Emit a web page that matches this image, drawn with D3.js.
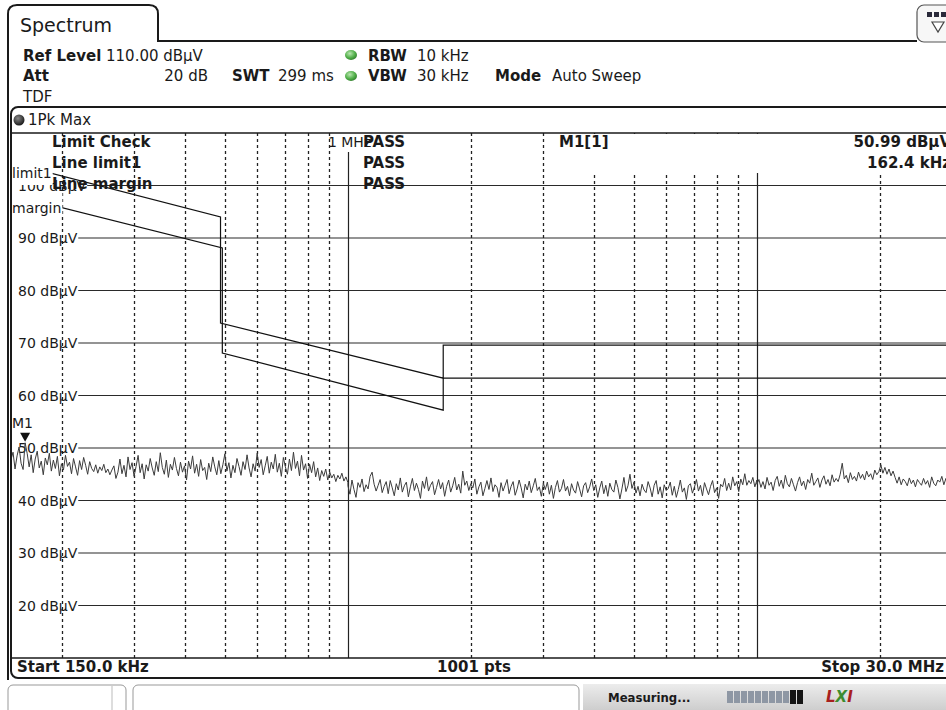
<!DOCTYPE html>
<html><head><meta charset="utf-8">
<script src="https://cdn.jsdelivr.net/npm/d3@7/dist/d3.min.js"></script>
<style>
body{margin:0;background:#fff;}
svg{display:block;font-family:"DejaVu Sans",Verdana,sans-serif;}
</style></head><body>
<svg id="c" width="946" height="710"></svg>
<script>
// ---------------- data ----------------
const startFreq = 150e3, stopFreq = 30e6;
const refLevel = 110, bottomLevel = 10;
const levelTicks = [100, 90, 80, 70, 60, 50, 40, 30, 20];
const dashedFreqs = [200e3, 300e3, 400e3, 500e3, 600e3, 700e3, 800e3, 900e3,
                     2e6, 3e6, 4e6, 5e6, 6e6, 7e6, 8e6, 9e6, 20e6];
const solidFreqs = [1e6, 10e6];
const solidLabels = ["1 MHz", ""];

const limit1Freq  = [150e3, 488e3, 488e3, 1.71e6, 1.71e6, 30e6];
const limit1Level = [104.3, 94.0, 73.8, 63.3, 69.6, 69.6];
const marginFreq  = [150e3, 493e3, 493e3, 1.71e6, 1.71e6, 30e6];
const marginLevel = [98.2, 88.1, 68.1, 57.2, 63.3, 63.3];

// trace 1 (1Pk Max): 150 kHz-1 MHz, 1-10 MHz, 10-30 MHz
const traceLow = [
  47.8,49.2,46.0,48.5,50.2,47.1,45.9,50.99,49.0,46.4,
  48.7,45.3,47.9,49.4,46.2,47.5,44.9,48.1,46.8,49.0,
  45.6,47.7,46.1,48.4,44.7,47.0,45.8,48.6,46.5,47.3,
  45.1,48.0,46.4,44.8,47.6,45.9,48.2,46.7,45.0,47.4,
  46.1,45.5,46.8,45.2,46.4,45.7,46.9,45.3,46.0,44.9,
  45.8,46.6,44.2,45.4,47.9,45.1,46.7,44.5,48.3,45.9,
  47.2,44.6,46.5,48.6,45.3,47.0,44.1,46.8,45.6,48.0,
  46.2,44.8,47.4,45.5,49.1,46.3,45.0,47.7,44.4,46.9,
  45.8,48.2,46.1,44.7,47.3,45.4,46.6,43.9,47.5,46.0,
  48.5,45.2,46.9,44.6,47.8,45.7,46.3,44.0,47.1,45.5,
  48.3,46.4,44.9,47.6,45.1,46.8,48.9,45.6,47.2,44.3,
  46.7,45.3,48.0,46.5,44.8,47.4,45.9,48.7,46.2,44.5,
  47.0,45.6,49.0,46.3,47.8,44.9,46.6,48.4,45.2,47.3,
  46.0,48.8,45.4,47.1,44.6,48.2,46.4,45.0,47.9,45.7,
  49.2,46.1,47.5,44.7,48.6,45.8,47.0,44.2,46.9,45.3,
  47.4,44.5,46.2,43.8,45.7,44.6,46.0,43.9,45.4,44.3,
  45.0,43.6,44.8,44.1,45.2,43.7,44.5,43.4];
const traceMid = [
  42.8,41.2,43.9,42.1,40.6,43.4,42.5,44.1,41.7,43.0,
  42.2,44.6,45.4,43.1,41.8,42.9,44.0,41.5,42.7,43.6,
  41.3,43.8,42.4,40.9,43.2,42.0,44.3,41.6,42.8,43.5,
  40.7,42.6,44.2,41.9,43.3,42.1,40.4,43.7,42.3,44.5,
  41.8,42.9,43.6,41.1,42.5,44.0,42.2,43.4,40.8,42.7,
  43.9,41.6,42.8,44.4,42.0,43.1,41.4,45.6,42.9,43.7,
  41.9,43.2,42.4,44.1,41.2,42.6,43.5,40.9,42.3,43.8,
  42.1,44.3,41.7,43.0,42.5,40.6,43.4,41.8,42.9,44.0,
  41.3,42.7,43.6,41.0,42.2,43.9,42.4,40.5,43.1,42.0,
  43.7,41.5,42.8,44.2,41.9,42.6,40.8,43.3,42.1,43.5,
  41.2,42.9,40.4,42.5,43.8,41.6,42.3,44.0,41.8,42.7,
  40.9,43.2,42.0,41.4,43.6,42.2,40.7,42.8,43.4,41.5,
  42.6,44.1,41.9,43.0,40.6,42.4,43.7,41.3,42.9,40.8,
  43.3,42.1,41.6,43.9,42.5,40.3,42.2,44.4,41.7,42.8,
  45.0,42.3,43.5,41.4,42.7,40.9,43.1,42.0,41.5,43.6,
  42.4,40.7,42.9,43.8,41.2,42.6,40.5,43.0,41.9,42.3,
  43.5,41.0,42.7,40.6,42.1,43.9,41.6,42.4,40.2,42.8,
  43.2,41.4,42.5,44.0,41.8,42.9,40.9,43.4,42.2,41.1,
  42.7,43.8,41.5,42.4,40.4,43.1,42.6,44.2,41.9,43.3,
  42.0,44.5,42.8,43.6,41.7,44.1,43.0,45.1,42.9,43.8,
  43.2,44.4,42.6,43.9];
const traceHigh = [
  43.1,44.0,42.5,43.6,42.2,44.4,42.9,43.5,41.9,43.8,
  44.6,42.7,43.9,42.3,44.8,43.2,42.6,44.2,43.0,41.8,
  43.4,44.5,42.8,43.7,42.1,44.0,43.3,45.2,42.9,43.6,
  44.3,42.5,43.9,44.7,43.1,44.0,42.8,44.9,43.5,44.2,
  43.6,45.0,47.1,44.1,44.8,43.4,45.3,44.0,44.6,43.7,
  45.4,44.2,45.0,43.9,45.6,44.5,45.1,44.0,45.8,44.9,
  45.5,46.8,45.2,46.3,45.0,46.0,44.7,45.6,44.4,43.3,
  44.5,43.0,44.1,43.6,42.8,44.3,43.2,43.9,42.6,44.0,
  43.4,42.9,44.2,43.1,43.8,42.5,44.5,43.3,42.8,43.9,
  43.5,44.6,43.0,44.2,42.7,43.8,44.1];
const traceBands = [[150e3, 1e6], [1e6, 10e6], [10e6, 30e6]];

const markerFreq = [162.4e3];
const markerLevel = [50.99];
const markerNames = ["M1"];

// ---------------- scales ----------------
const svg = d3.select("#c");
const L = 11, R = 952, T = 133, B = 658;
const x = d3.scaleLog().domain([startFreq, stopFreq]).range([L, R]);
const y = d3.scaleLinear().domain([bottomLevel, refLevel]).range([B, T]);
const INK = "#1a1a1a";

svg.append("rect").attr("width", 946).attr("height", 710).attr("fill", "#fff");

// ---------------- grid ----------------
const grid = svg.append("g");
const ylab = svg.append("g").attr("font-size", 14).attr("fill", INK);
levelTicks.forEach(t => {
  const tx = ylab.append("text").attr("x", 18).attr("y", y(t)).attr("dy", "0.36em")
    .text(t + " dBµV");
  const w = tx.node().getComputedTextLength();
  grid.append("line").attr("x1", 18 + w + 1).attr("x2", R)
    .attr("y1", y(t)).attr("y2", y(t))
    .attr("stroke", "#2a2a2a").attr("stroke-width", 1.2);
});
grid.selectAll("line.vd").data(dashedFreqs).enter().append("line")
  .attr("x1", d => Math.round(x(d)) + 0.5).attr("x2", d => Math.round(x(d)) + 0.5)
  .attr("y1", T).attr("y2", B)
  .attr("stroke", "#222").attr("stroke-width", 1.3).attr("stroke-dasharray", "3,3");
grid.selectAll("line.vs").data(solidFreqs).enter().append("line")
  .attr("x1", d => Math.round(x(d)) + 0.5).attr("x2", d => Math.round(x(d)) + 0.5)
  .attr("y1", (d, i) => solidLabels[i] ? T + 19 : T).attr("y2", B)
  .attr("stroke", "#222").attr("stroke-width", 1.2);
grid.selectAll("text.vs").data(solidFreqs).enter().append("text")
  .attr("x", d => x(d) - 20).attr("y", T + 9).attr("dy", "0.36em")
  .attr("font-size", 14).attr("fill", INK).text((d, i) => solidLabels[i]);

// ---------------- limit lines ----------------
svg.append("clipPath").attr("id", "pc").append("rect")
  .attr("x", L).attr("y", T).attr("width", R - L).attr("height", B - T);
const line = d3.line().x(d => x(d[0])).y(d => y(d[1]));
const lim = svg.append("g").attr("clip-path", "url(#pc)");
lim.append("path").attr("d", line(d3.zip(limit1Freq, limit1Level)))
  .attr("fill", "none").attr("stroke", "#111").attr("stroke-width", 1.2);
lim.append("path").attr("d", line(d3.zip(marginFreq, marginLevel)))
  .attr("fill", "none").attr("stroke", "#111").attr("stroke-width", 1.2);

// ---------------- trace ----------------
const tracePts = [];
[traceLow, traceMid, traceHigh].forEach((vals, k) => {
  const [f0, f1] = traceBands[k];
  const n = vals.length;
  vals.forEach((v, i) => tracePts.push([f0 * Math.pow(f1 / f0, i / (n - 1)), v]));
});
lim.append("path").attr("d", line(tracePts))
  .attr("fill", "none").attr("stroke", "#3c3c3c").attr("stroke-width", 1);

// ---------------- limit line labels ----------------
const labs = svg.append("g").attr("font-size", 14).attr("fill", INK);
[["limit1", limit1Level[0], 10, 160, 25], ["margin", marginLevel[0], 13, 193, 24]].forEach(([name, lv, off, by, bh]) => {
  const t = labs.append("text").attr("x", 12).attr("y", y(lv) + off).attr("dy", "0.36em").text(name);
  const w = t.node().getComputedTextLength();
  labs.insert("rect", "text").attr("x", L + 1).attr("y", by).attr("width", w + 1).attr("height", bh).attr("fill", "#fff");
});

// ---------------- limit check table ----------------
const lc = svg.append("g").attr("font-size", 15).attr("font-weight", "bold").attr("fill", INK);
["Limit Check", "Line limit1", "Line margin"].forEach((s, i) => {
  lc.append("text").attr("x", 52).attr("y", 142 + i * 21).attr("dy", "0.36em").text(s);
  lc.append("text").attr("x", 363).attr("y", 142 + i * 21).attr("dy", "0.36em").text("PASS");
});

// ---------------- marker info ----------------
svg.append("rect").attr("x", 550).attr("y", T + 1).attr("width", 420).attr("height", 39).attr("fill", "#fff");
const mi = svg.append("g").attr("font-size", 15).attr("font-weight", "bold").attr("fill", INK);
mi.append("text").attr("x", 559).attr("y", 142).attr("dy", "0.36em").text(markerNames[0] + "[1]");
mi.append("text").attr("x", 951).attr("y", 142).attr("dy", "0.36em").attr("text-anchor", "end")
  .text(markerLevel[0].toFixed(2) + " dBµV");
mi.append("text").attr("x", 951).attr("y", 163).attr("dy", "0.36em").attr("text-anchor", "end")
  .text((markerFreq[0] / 1e3).toFixed(1) + " kHz");

markerFreq.forEach((f, i) => {
  const mx = x(f), my = y(markerLevel[i]);
  svg.append("path").attr("d", `M${mx - 5},${my - 10}L${mx + 5},${my - 10}L${mx},${my - 1}Z`).attr("fill", "#111");
  svg.append("text").attr("x", 12).attr("y", my - 20).attr("dy", "0.36em")
    .attr("font-size", 14).attr("fill", INK).text(markerNames[i]);
});

// ---------------- frame ----------------
const fr = svg.append("g").attr("fill", "none").attr("stroke", "#1a1a1a");
fr.append("path").attr("d", "M8,680 V14 Q8,5 17,5 H149 Q158,5 158,14 V41 H917").attr("stroke-width", 2);
fr.append("rect").attr("x", 11).attr("y", 107).attr("width", 960).attr("height", 571).attr("rx", 7).attr("stroke-width", 2);
fr.append("line").attr("x1", L).attr("x2", R).attr("y1", T).attr("y2", T).attr("stroke-width", 1.5);
fr.append("line").attr("x1", L).attr("x2", R).attr("y1", B).attr("y2", B).attr("stroke-width", 1.5);

const ic = svg.append("g");
ic.append("rect").attr("x", 917).attr("y", 5).attr("width", 40).attr("height", 37).attr("rx", 7)
  .attr("fill", "#f7f7f7").attr("stroke", "#555").attr("stroke-width", 1.2);
[927, 934, 941].forEach(sx => ic.append("rect").attr("x", sx).attr("y", 12).attr("width", 5).attr("height", 5).attr("fill", "#2a2a3a"));
ic.append("path").attr("d", "M932,22 L944,22 L938,32 Z").attr("fill", "#fff").attr("stroke", "#444").attr("stroke-width", 1.2);

svg.append("text").attr("x", 20).attr("y", 25).attr("dy", "0.36em").attr("font-size", 19).attr("fill", INK).text("Spectrum");

const hd = svg.append("g").attr("font-size", 15).attr("fill", INK);
function ht(xp, yp, s, bold, anchor) {
  hd.append("text").attr("x", xp).attr("y", yp).attr("dy", "0.36em")
    .attr("font-weight", bold ? "bold" : "normal").attr("text-anchor", anchor || "start").text(s);
}
ht(23, 56, "Ref Level", true); ht(106, 56, "110.00 dBµV");
ht(368, 56, "RBW", true); ht(417, 56, "10 kHz");
ht(23, 76, "Att", true); ht(208, 76, "20 dB", false, "end");
ht(232, 76, "SWT", true); ht(278, 76, "299 ms");
ht(368, 76, "VBW", true); ht(417, 76, "30 kHz");
ht(495, 76, "Mode", true); ht(552, 76, "Auto Sweep");
ht(23, 97, "TDF");
const defs = svg.append("defs");
const gg = defs.append("radialGradient").attr("id", "gdot").attr("cx", "40%").attr("cy", "35%").attr("r", "70%");
gg.append("stop").attr("offset", "0%").attr("stop-color", "#b9e6b0");
gg.append("stop").attr("offset", "60%").attr("stop-color", "#52b04a");
gg.append("stop").attr("offset", "100%").attr("stop-color", "#2f7a2a");
[55, 76].forEach(cy => svg.append("ellipse").attr("cx", 351).attr("cy", cy).attr("rx", 6).attr("ry", 5).attr("fill", "url(#gdot)"));

const kg = defs.append("radialGradient").attr("id", "kdot").attr("cx", "40%").attr("cy", "35%").attr("r", "70%");
kg.append("stop").attr("offset", "0%").attr("stop-color", "#888");
kg.append("stop").attr("offset", "100%").attr("stop-color", "#111");
svg.append("circle").attr("cx", 19).attr("cy", 120).attr("r", 5.5).attr("fill", "url(#kdot)");
svg.append("text").attr("x", 28).attr("y", 120).attr("dy", "0.36em").attr("font-size", 15).attr("fill", INK).text("1Pk Max");

const br = svg.append("g").attr("font-size", 15).attr("font-weight", "bold").attr("fill", INK);
br.append("text").attr("x", 17).attr("y", 667).attr("dy", "0.36em").text("Start " + (startFreq / 1e3).toFixed(1) + " kHz");
br.append("text").attr("x", 474).attr("y", 667).attr("dy", "0.36em").attr("text-anchor", "middle").text("1001 pts");
br.append("text").attr("x", 944).attr("y", 667).attr("dy", "0.36em").attr("text-anchor", "end").text("Stop " + (stopFreq / 1e6).toFixed(1) + " MHz");

const sb = svg.append("g");
const sg = defs.append("linearGradient").attr("id", "sgr").attr("x1", 0).attr("y1", 0).attr("x2", 0).attr("y2", 1);
sg.append("stop").attr("offset", "0%").attr("stop-color", "#ececec");
sg.append("stop").attr("offset", "100%").attr("stop-color", "#c9c9c9");
sb.append("rect").attr("x", 583).attr("y", 684).attr("width", 380).attr("height", 30).attr("fill", "url(#sgr)");
sb.append("rect").attr("x", 8).attr("y", 685).attr("width", 118).attr("height", 30).attr("rx", 5)
  .attr("fill", "#fff").attr("stroke", "#999");
sb.append("line").attr("x1", 112).attr("x2", 112).attr("y1", 686).attr("y2", 710).attr("stroke", "#bbb");
sb.append("rect").attr("x", 133).attr("y", 685).attr("width", 446).attr("height", 30).attr("rx", 5)
  .attr("fill", "#fff").attr("stroke", "#999");
sb.append("text").attr("x", 608).attr("y", 697).attr("dy", "0.36em").attr("font-size", 13)
  .attr("font-weight", "bold").attr("font-family", "'DejaVu Sans Condensed','DejaVu Sans',sans-serif")
  .attr("font-stretch", "condensed").attr("fill", INK).text("Measuring...");
d3.range(9).forEach(i => sb.append("rect").attr("x", 727 + i * 7).attr("y", 691).attr("width", 6).attr("height", 12).attr("fill", "#8e97a4"));
[790, 797].forEach(bx => sb.append("rect").attr("x", bx).attr("y", 690).attr("width", 6).attr("height", 14).attr("fill", "#151515"));
const lxi = sb.append("text").attr("x", 826).attr("y", 697).attr("dy", "0.36em").attr("font-size", 15)
  .attr("font-weight", "bold").attr("font-style", "italic");
lxi.append("tspan").attr("fill", "#a8201e").text("L");
lxi.append("tspan").attr("fill", "#3d8c2f").text("X");
lxi.append("tspan").attr("fill", "#a8201e").text("I");
</script>
</body></html>
